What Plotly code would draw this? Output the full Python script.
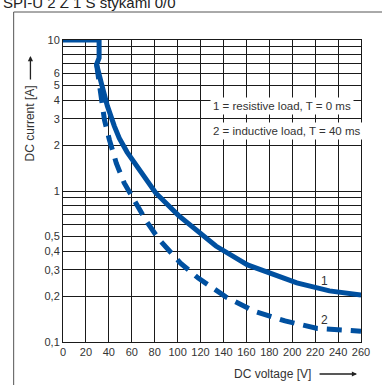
import math
import plotly.graph_objects as go

# Curve 1: resistive load, T = 0 ms (solid)
voltage_1 = [0, 31.5, 31.5, 29.3, 33.6, 38.7, 44.8, 49.1, 55.9, 66.3, 80.9, 100.7, 118, 133.4, 161, 204, 232.5, 260]
current_1 = [10, 10, 7.6, 6.9, 5.12, 3.66, 2.69, 2.24, 1.81, 1.38, 0.97, 0.69, 0.535, 0.432, 0.324, 0.246, 0.218, 0.205]

# Curve 2: inductive load, T = 40 ms (dashed)
voltage_2 = [29.3, 32.7, 36.2, 40.5, 46.5, 53.4, 62.8, 73.2, 83.5, 95.6, 102.5, 118, 142, 167, 193.7, 222, 250.5, 260]
current_2 = [6.9, 4.32, 2.95, 2.18, 1.53, 1.13, 0.845, 0.624, 0.481, 0.383, 0.333, 0.265, 0.199, 0.160, 0.138, 0.123, 0.118, 0.118]

x_ticks = list(range(0, 261, 20))
y_tickvals = [0.1, 0.2, 0.3, 0.4, 0.5, 0.6, 0.7, 0.8, 0.9, 1, 2, 3, 4, 5, 6, 7, 8, 9, 10]
y_ticktext = ["0,1", "0,2", "0,3", "0,4", "0,5", "", "", "", "", "1", "2", "3", "4", "5", "6", "", "", "", "10"]

BLUE = "#0050a0"
FONT = "Liberation Sans, Arial, sans-serif"

# plot area in pixels
L, T_, W, H = 63, 40, 302, 302


def px(x):
    return (x - L) / W


def py(y):
    return (T_ + H - y) / H


fig = go.Figure()
fig.add_trace(go.Scatter(x=voltage_1, y=current_1, mode="lines",
                         line=dict(color=BLUE, width=5), showlegend=False))
fig.add_trace(go.Scatter(x=voltage_2, y=current_2, mode="lines",
                         line=dict(color=BLUE, width=5, dash="15px,9px"), showlegend=False))

fig.update_xaxes(range=[0, 260], tickvals=x_ticks, ticktext=[str(v) for v in x_ticks],
                 showgrid=True, gridcolor="#1a1a1a", gridwidth=1,
                 showline=True, linecolor="#1a1a1a", linewidth=1, mirror=True,
                 ticks="", tickfont=dict(family=FONT, size=11, color="#333"), zeroline=False)
fig.update_yaxes(type="log", range=[-1, 1], tickvals=y_tickvals, ticktext=y_ticktext,
                 showgrid=True, gridcolor="#1a1a1a", gridwidth=1,
                 showline=True, linecolor="#1a1a1a", linewidth=1, mirror=True,
                 ticks="", tickfont=dict(family=FONT, size=11, color="#333"), zeroline=False)

annotations = [
    dict(text="1 = resistive load, T = 0 ms", x=px(212), y=py(106), xref="paper", yref="paper",
         xanchor="left", yanchor="middle", showarrow=False, bgcolor="white",
         font=dict(family=FONT, size=11.5, color="#333"), borderpad=2),
    dict(text="2 = inductive load, T = 40 ms", x=px(212), y=py(131), xref="paper", yref="paper",
         xanchor="left", yanchor="middle", showarrow=False, bgcolor="white",
         font=dict(family=FONT, size=11.5, color="#333"), borderpad=2),
    dict(text="1", x=228, y=math.log10(0.255), xref="x", yref="y", yanchor="middle", showarrow=False,
         font=dict(family=FONT, size=12, color="#333")),
    dict(text="2", x=228, y=math.log10(0.14), xref="x", yref="y", yanchor="middle", showarrow=False,
         font=dict(family=FONT, size=12, color="#333")),
    dict(text="DC current [A]", textangle=-90, x=px(30), y=py(123), xref="paper", yref="paper",
         xanchor="center", yanchor="middle", showarrow=False,
         font=dict(family=FONT, size=12, color="#333")),
    dict(text="", x=px(30), y=py(56), xref="paper", yref="paper", showarrow=True,
         ax=0, ay=25, arrowhead=2, arrowsize=0.8, arrowwidth=1.3, arrowcolor="#222"),
    dict(text="DC voltage [V]", x=px(275), y=py(374), xref="paper", yref="paper",
         xanchor="center", yanchor="middle", showarrow=False,
         font=dict(family=FONT, size=12, color="#333")),
    dict(text="", x=px(361), y=py(374), xref="paper", yref="paper", showarrow=True,
         ax=-39, ay=0, arrowhead=2, arrowsize=0.8, arrowwidth=1.3, arrowcolor="#222"),
    dict(text="SPI-U 2 Z 1 S stykami 0/0", x=px(0), y=py(2), xref="paper", yref="paper",
         xanchor="left", yanchor="middle", showarrow=False,
         font=dict(family=FONT, size=15, color="#222")),
]

shapes = [
    dict(type="rect", xref="paper", yref="paper", x0=px(13), y0=py(12), x1=px(395), y1=py(400),
         line=dict(color="#555", width=1), fillcolor="rgba(0,0,0,0)", layer="below"),
]

fig.update_layout(width=382, height=385, margin=dict(l=L, r=382 - L - W, t=T_, b=385 - T_ - H),
                  paper_bgcolor="white", plot_bgcolor="white",
                  annotations=annotations, shapes=shapes, showlegend=False)

fig.write_html("out.html", config={"displayModeBar": False},
               post_script="document.body.style.margin='0';document.body.style.overflow='hidden';")
